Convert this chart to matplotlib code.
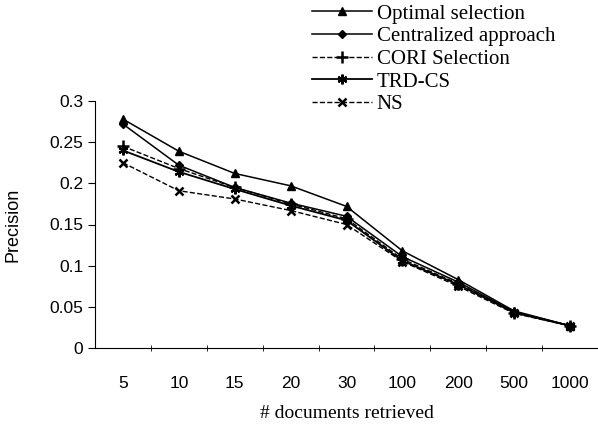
import numpy as np
import matplotlib.pyplot as plt

docs = ['5', '10', '15', '20', '30', '100', '200', '500', '1000']

optimal = [0.278, 0.239, 0.212, 0.197, 0.172, 0.118, 0.083, 0.045, 0.027]
centralized = [0.272, 0.222, 0.195, 0.176, 0.160, 0.111, 0.080, 0.044, 0.027]
cori = [0.245, 0.218, 0.195, 0.175, 0.157, 0.108, 0.078, 0.043, 0.027]
trd_cs = [0.240, 0.214, 0.193, 0.173, 0.155, 0.106, 0.077, 0.043, 0.027]
ns = [0.225, 0.191, 0.181, 0.167, 0.150, 0.105, 0.075, 0.042, 0.027]

fig = plt.figure(figsize=(5.98, 4.25), dpi=100)
ax = fig.add_axes([95 / 598, 77 / 425, 503 / 598, 247 / 425])

x = np.arange(len(docs))
ax.plot(x, optimal, '-', color='black', lw=1.1, marker='^', ms=6, label='Optimal selection')
ax.plot(x, centralized, '-', color='black', lw=1.1, marker='D', ms=4.5, label='Centralized approach')
ax.plot(x, cori, '--', color='black', lw=1.0, marker='+', ms=8, mew=1.8, label='CORI Selection')
ax.plot(x, trd_cs, '-', color='black', lw=1.3, marker=(6, 2, 0), ms=7, mew=1.6, label='TRD-CS')
ax.plot(x, ns, '--', color='black', lw=1.0, marker='x', ms=6, mew=1.8, label='NS')

ax.set_xlim(-0.5, len(docs) - 0.5)
ax.set_ylim(0, 0.3)
ax.set_yticks(np.arange(0, 0.31, 0.05))
ax.set_yticklabels(['0', '0.05', '0.1', '0.15', '0.2', '0.25', '0.3'])
ax.set_xticks(x)
ax.set_xticklabels(docs)
ax.set_xticks(np.arange(0.5, len(docs) - 0.5, 1), minor=True)
ax.tick_params(axis='x', which='major', length=0, pad=20, labelsize=12.5)
ax.tick_params(axis='x', which='minor', length=4, direction='inout')
ax.tick_params(axis='y', length=5, labelsize=12.5)
for lab in ax.get_xticklabels() + ax.get_yticklabels():
    lab.set_family('Liberation Sans')

ax.spines['top'].set_visible(False)
ax.spines['right'].set_visible(False)

ax.set_ylabel('Precision', family='Liberation Sans', fontsize=13, labelpad=20)
ax.set_xlabel('# documents retrieved', family='Liberation Serif', fontsize=14, labelpad=10)

fig.legend(loc='upper left', bbox_to_anchor=(312 / 598, 1 - 4 / 425), frameon=False,
           prop={'family': 'Liberation Serif', 'size': 15}, handlelength=2.9,
           labelspacing=0.15, handletextpad=0.2, borderaxespad=0, borderpad=0)

plt.savefig('out.png', dpi=100)
